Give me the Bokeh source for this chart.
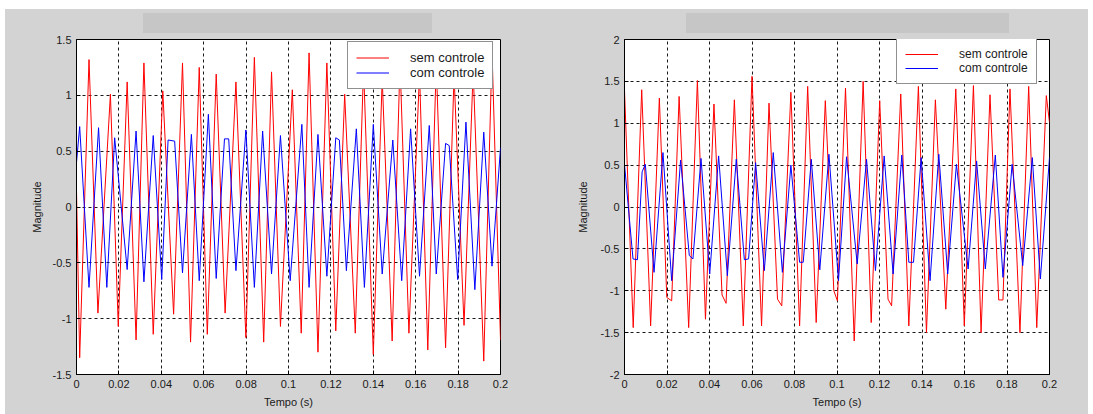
from bokeh.plotting import figure
from bokeh.layouts import row, column, Spacer
from bokeh.models import Range1d, FixedTicker, Legend, LegendItem, Div
from bokeh.embed import file_html
from bokeh.resources import INLINE

# ---------------- data ----------------
x_ticks = [0, 0.02, 0.04, 0.06, 0.08, 0.1, 0.12, 0.14, 0.16, 0.18, 0.2]
x_tick_labels = ["0", "0.02", "0.04", "0.06", "0.08", "0.1", "0.12", "0.14", "0.16", "0.18", "0.2"]
y_ticks_left = [-1.5, -1, -0.5, 0, 0.5, 1, 1.5]
y_tick_labels_left = ["-1.5", "-1", "-0.5", "0", "0.5", "1", "1.5"]
y_ticks_right = [-2, -1.5, -1, -0.5, 0, 0.5, 1, 1.5, 2]
y_tick_labels_right = ["-2", "-1.5", "-1", "-0.5", "0", "0.5", "1", "1.5", "2"]
series_labels = ["sem controle", "com controle"]
x_label = "Tempo (s)"
y_label = "Magnitude"

# left panel, "sem controle"
t_sem_left = [0, 0.0015, 0.0059, 0.0101, 0.016, 0.0197, 0.0239, 0.0281, 0.0318, 0.0362,
              0.0407, 0.0458, 0.05, 0.0538, 0.0579, 0.0617, 0.0659, 0.0701, 0.0752, 0.0799,
              0.0839, 0.0883, 0.092, 0.0962, 0.1018, 0.106, 0.1097, 0.1139, 0.1181, 0.1223,
              0.1265, 0.1315, 0.1354, 0.14, 0.1442, 0.1489, 0.1526, 0.1568, 0.1618, 0.1657,
              0.1697, 0.1741, 0.1781, 0.1828, 0.1871, 0.1921, 0.196, 0.2]
v_sem_left = [0.15, -1.35, 1.32, -0.95, 1.01, -1.07, 1.12, -1.19, 1.29, -1.14,
              1.04, -0.96, 1.29, -1.21, 1.25, -1.14, 1.19, -0.95, 1.12, -1.17,
              1.34, -1.21, 1.21, -1.07, 1.05, -1.13, 1.38, -1.30, 1.29, -1.11,
              1.01, -1.13, 1.25, -1.32, 1.15, -1.20, 1.30, -1.13, 1.20, -1.28,
              1.28, -1.26, 1.18, -1.06, 1.22, -1.38, 1.39, -1.19]

# left panel, "com controle"
t_com_left = [0, 0.0015, 0.0059, 0.0104, 0.0143, 0.018, 0.0239, 0.0281, 0.0318, 0.0362,
              0.0402, 0.0432, 0.0463, 0.05, 0.0542, 0.0579, 0.0622, 0.0659, 0.0698, 0.0718,
              0.0752, 0.0799, 0.0839, 0.0878, 0.092, 0.0962, 0.1008, 0.1063, 0.1097, 0.1139,
              0.1181, 0.1223, 0.124, 0.1273, 0.132, 0.1358, 0.14, 0.1442, 0.1492, 0.1534,
              0.1576, 0.1618, 0.1664, 0.1697, 0.1741, 0.1758, 0.1798, 0.1837, 0.1879, 0.1921,
              0.196, 0.2]
v_com_left = [0.40, 0.72, -0.72, 0.71, -0.72, 0.62, -0.56, 0.68, -0.67, 0.64,
              -0.65, 0.60, 0.59, -0.59, 0.65, -0.66, 0.83, -0.64, 0.61, 0.61,
              -0.57, 0.69, -0.72, 0.68, -0.60, 0.64, -0.66, 0.74, -0.72, 0.65,
              -0.62, 0.62, 0.60, -0.57, 0.70, -0.72, 0.74, -0.60, 0.60, -0.66,
              0.70, -0.62, 0.73, -0.60, 0.57, 0.55, -0.65, 0.76, -0.74, 0.67,
              -0.53, 0.53]

# right panel, "sem controle"
t_sem_right = [0, 0.0041, 0.0081, 0.0123, 0.0164, 0.0199, 0.0222, 0.0257, 0.0302, 0.0343,
               0.0381, 0.0421, 0.0459, 0.0478, 0.0517, 0.0559, 0.06, 0.0645, 0.068, 0.072,
               0.074, 0.0783, 0.0824, 0.0862, 0.0902, 0.0945, 0.0985, 0.1002, 0.104, 0.1081,
               0.1123, 0.1161, 0.1201, 0.124, 0.1257, 0.13, 0.1338, 0.1383, 0.1421, 0.1463,
               0.1512, 0.1559, 0.1599, 0.1642, 0.1678, 0.172, 0.1761, 0.1781, 0.1814, 0.1861,
               0.1902, 0.194, 0.1985, 0.2]
v_sem_right = [1.39, -1.44, 1.40, -1.42, 1.30, -1.08, -1.12, 1.32, -1.44, 1.51,
               -1.34, 1.23, -1.05, -1.15, 1.28, -1.42, 1.56, -1.42, 1.24, -1.10,
               -1.18, 1.37, -1.42, 1.44, -1.38, 1.27, -1.00, -1.12, 1.42, -1.60,
               1.50, -1.38, 1.27, -1.10, -1.18, 1.35, -1.42, 1.44, -1.50, 1.28,
               -1.22, 1.41, -1.42, 1.45, -1.50, 1.34, -1.11, -1.11, 1.41, -1.50,
               1.44, -1.44, 1.33, 1.01]

# right panel, "com controle"
t_com_right = [0, 0.004, 0.0061, 0.0083, 0.0098, 0.0139, 0.0181, 0.0222, 0.0264, 0.0305,
               0.0322, 0.036, 0.0401, 0.0443, 0.0484, 0.0526, 0.0564, 0.0584, 0.0617, 0.0658,
               0.07, 0.0743, 0.0783, 0.0824, 0.0841, 0.0879, 0.0919, 0.0962, 0.1007, 0.1045,
               0.1095, 0.1139, 0.1181, 0.1222, 0.1264, 0.1305, 0.1338, 0.136, 0.1396, 0.1438,
               0.1479, 0.1521, 0.1562, 0.1617, 0.1657, 0.1698, 0.1745, 0.1781, 0.1824, 0.1874,
               0.1919, 0.1957, 0.2]
v_com_right = [0.51, -0.62, -0.63, 0.42, 0.51, -0.78, 0.65, -0.88, 0.56, -0.58,
               -0.62, 0.58, -0.80, 0.61, -0.82, 0.57, -0.63, -0.62, 0.53, -0.76,
               0.65, -0.78, 0.50, -0.66, -0.66, 0.57, -0.75, 0.63, -0.88, 0.60,
               -0.68, 0.57, -0.76, 0.61, -0.80, 0.62, -0.66, -0.66, 0.59, -0.88,
               0.63, -0.80, 0.51, -0.74, 0.55, -0.74, 0.62, -0.84, 0.51, -0.70,
               0.59, -0.86, 0.59]

FONT = "Liberation Sans"
PANEL_BG = "#d3d3d3"
BAR_BG = "#c6c6c6"
FIG_H = 381          # figure part below the title strip
STRIP_GAP = 4        # grey above the title bar
BAR_H = 20           # height of the (empty) title bar
BG_STYLE = {"background-color": PANEL_BG}


def block(w, h, color):
    return Div(text="", width=w, height=h, margin=0,
               styles={"background-color": color})


def make_panel(width, left_border, right_border, y_lo, y_hi, y_ticks, y_labels,
               t_sem, v_sem, t_com, v_com, legend_xy, legend_font, label_standoff,
               bar_left, bar_width):
    p = figure(width=width, height=FIG_H,
               x_range=Range1d(0, 0.2), y_range=Range1d(y_lo, y_hi),
               output_backend="svg", toolbar_location=None,
               min_border_left=left_border, min_border_right=right_border,
               min_border_top=6, min_border_bottom=FIG_H - 6 - 335,
               border_fill_color=PANEL_BG, background_fill_color="white",
               outline_line_color="black", outline_line_width=1)

    r_sem = p.line(t_sem, v_sem, line_color="#ff0000", line_width=1)
    r_com = p.line(t_com, v_com, line_color="#0000ff", line_width=1)

    p.xaxis.ticker = FixedTicker(ticks=x_ticks)
    p.xaxis.major_label_overrides = dict(zip(x_ticks, x_tick_labels))
    p.yaxis.ticker = FixedTicker(ticks=y_ticks)
    p.yaxis.major_label_overrides = dict(zip(y_ticks, y_labels))

    for ax in (p.xaxis[0], p.yaxis[0]):
        ax.major_tick_in = 4
        ax.major_tick_out = 0
        ax.minor_tick_line_color = None
        ax.axis_line_color = "black"
        ax.major_tick_line_color = "black"
        ax.major_label_text_font = FONT
        ax.major_label_text_font_size = "11px"
        ax.major_label_text_color = "#1a1a1a"
        ax.major_label_standoff = 5
        ax.axis_label_text_font = FONT
        ax.axis_label_text_font_size = "11px"
        ax.axis_label_text_font_style = "normal"
        ax.axis_label_text_color = "#1a1a1a"

    p.xaxis.axis_label = x_label
    p.xaxis.axis_label_standoff = 5
    p.yaxis.axis_label = y_label
    p.yaxis.axis_label_standoff = label_standoff

    p.grid.grid_line_color = "black"
    p.grid.grid_line_dash = "3 3"
    p.grid.grid_line_alpha = 0.9

    legend = Legend(items=[LegendItem(label=series_labels[0], renderers=[r_sem]),
                           LegendItem(label=series_labels[1], renderers=[r_com])],
                    location=legend_xy, margin=0, padding=8, spacing=0,
                    glyph_width=33, glyph_height=int(legend_font), label_height=int(legend_font),
                    label_standoff=21, label_text_font=FONT,
                    label_text_font_size=f"{legend_font}px", label_text_color="#1a1a1a",
                    border_line_color="#222222", border_line_width=1,
                    background_fill_color="white", background_fill_alpha=1.0)
    p.add_layout(legend)

    # grey strip on top holding the empty title bar
    right_w = width - bar_left - bar_width
    strip = row(block(bar_left, STRIP_GAP + BAR_H, PANEL_BG),
                column(block(bar_width, STRIP_GAP, PANEL_BG), block(bar_width, BAR_H, BAR_BG),
                       spacing=0, styles=BG_STYLE),
                block(right_w, STRIP_GAP + BAR_H, PANEL_BG),
                spacing=0, styles=BG_STYLE)
    return column(strip, p, spacing=0, styles=BG_STYLE)


p_left = make_panel(547, 71, 52, -1.5, 1.5, y_ticks_left, y_tick_labels_left,
                    t_sem_left, v_sem_left, t_com_left, v_com_left,
                    (271, 285), 13, 7, 138, 289)
p_right = make_panel(536, 72, 39, -2, 2, y_ticks_right, y_tick_labels_right,
                     t_sem_right, v_sem_right, t_com_right, v_com_right,
                     (272, 290), 12, 9, 134, 323)

layout = column(Spacer(height=9), row(Spacer(width=5), p_left, p_right, spacing=0), spacing=0)
open("out.html", "w").write(file_html(layout, INLINE))
